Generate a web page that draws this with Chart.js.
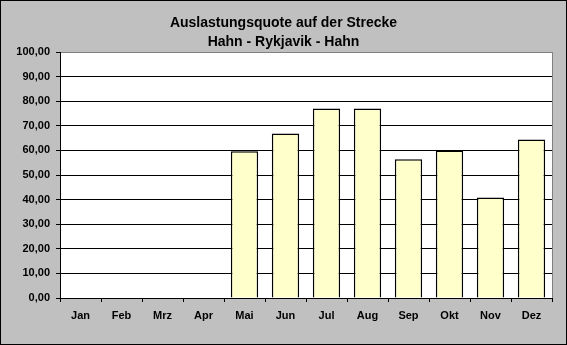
<!DOCTYPE html>
<html>
<head>
<meta charset="utf-8">
<script src="https://cdn.jsdelivr.net/npm/chart.js@4"></script>
<style>
  html, body { margin: 0; padding: 0; background: #c0c0c0; }
  #wrap { width: 567px; height: 345px; }
</style>
</head>
<body>
<div id="wrap"><canvas id="loadChart"></canvas></div>
<script>
const months = ['Jan', 'Feb', 'Mrz', 'Apr', 'Mai', 'Jun', 'Jul', 'Aug', 'Sep', 'Okt', 'Nov', 'Dez'];
const loadFactor = [null, null, null, null, 59.7, 66.9, 77.1, 77.1, 56.4, 60.0, 40.9, 64.5];
const titleLines = ['Auslastungsquote auf der Strecke', 'Hahn - Rykjavik - Hahn'];

// gray background, white plot area, frame lines
const frame = {
    id: 'frame',
    beforeDraw(chart) {
        const c = chart.ctx, a = chart.chartArea;
        c.save();
        c.fillStyle = '#c0c0c0';
        c.fillRect(0, 0, chart.width, chart.height);
        c.strokeStyle = '#000';
        c.lineWidth = 1;
        c.strokeRect(0.5, 0.5, chart.width - 1, chart.height - 1);
        c.fillStyle = '#fff';
        c.fillRect(a.left, a.top, a.right - a.left, a.bottom - a.top);
        c.restore();
    },
    afterDatasetsDraw(chart) {
        const c = chart.ctx, a = chart.chartArea;
        c.save();
        c.strokeStyle = '#808080';
        c.lineWidth = 1;
        c.beginPath();
        c.moveTo(a.right + 0.5, a.top);
        c.lineTo(a.right + 0.5, a.bottom);
        c.stroke();
        c.restore();
    }
};

const font = { family: '"Liberation Sans", Arial, sans-serif', size: 11, weight: 'bold' };

new Chart(document.getElementById('loadChart'), {
    type: 'bar',
    data: {
        labels: months,
        datasets: [{
            data: loadFactor,
            backgroundColor: '#ffffcc',
            borderColor: '#000',
            borderWidth: 1.5,
            barPercentage: 0.667,
            categoryPercentage: 1
        }]
    },
    options: {
        responsive: true,
        maintainAspectRatio: false,
        animation: false,
        layout: { padding: 0 },
        plugins: {
            legend: { display: false },
            tooltip: { enabled: false },
            title: {
                display: true,
                text: titleLines,
                color: '#000',
                font: { family: '"Liberation Sans", Arial, sans-serif', size: 14, weight: 'bold', lineHeight: 1.36 },
                padding: { top: 14, bottom: 0 }
            }
        },
        scales: {
            x: {
                grid: { display: true, offset: true, drawOnChartArea: false, drawTicks: true, tickLength: 4, color: '#000' },
                border: { color: '#000', width: 1 },
                ticks: { color: '#000', font: font, padding: 7, maxRotation: 0 },
                afterFit(scale) { scale.height = 47; }
            },
            y: {
                min: 0,
                max: 100,
                grid: {
                    color: ctx => ctx.tick && ctx.tick.value === 100 ? '#808080' : '#000',
                    tickColor: '#000',
                    tickLength: 4
                },
                border: { color: '#000', width: 1 },
                ticks: {
                    stepSize: 10,
                    color: '#000',
                    font: font,
                    padding: 6,
                    callback: v => v.toFixed(2).replace('.', ',')
                },
                afterFit(scale) { scale.width = 60; }
            },
            // empty right-hand spacer so the title stays centred on the whole canvas
            spacer: {
                type: 'linear',
                position: 'right',
                display: true,
                grid: { drawOnChartArea: false, drawTicks: false },
                border: { display: false },
                ticks: { display: false },
                afterFit(scale) { scale.width = 15; }
            }
        }
    },
    plugins: [frame]
});
</script>
</body>
</html>
